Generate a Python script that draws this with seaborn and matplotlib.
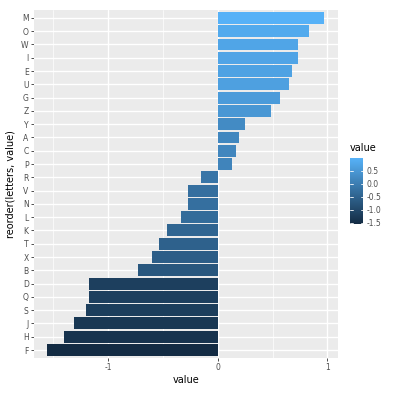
import matplotlib
matplotlib.use("Agg")
import matplotlib.pyplot as plt
import seaborn as sns
import numpy as np
import pandas as pd
from matplotlib.colors import LinearSegmentedColormap, Normalize
from matplotlib.cm import ScalarMappable

letters = ["M", "O", "W", "I", "E", "U", "G", "Z", "Y", "A", "C", "P", "R",
           "V", "N", "L", "K", "T", "X", "B", "D", "Q", "S", "J", "H", "F"]
values = [0.97, 0.83, 0.735, 0.73, 0.68, 0.65, 0.565, 0.486, 0.25, 0.19, 0.17, 0.125, -0.158,
          -0.27, -0.27, -0.337, -0.468, -0.535, -0.605, -0.73, -1.173, -1.18, -1.20, -1.315, -1.40, -1.556]
x_ticks = [-1, 0, 1]
x_minor = [-1.5, -0.5, 0.5]
cbar_ticks = [0.5, 0.0, -0.5, -1.0, -1.5]

df = pd.DataFrame({"letters": letters, "value": values})

sns.set_theme(style="dark")
plt.rcParams['font.family'] = ['DejaVu Sans']

cmap = LinearSegmentedColormap.from_list("gg", ["#132B43", "#56B1F7"])
vmin, vmax = min(values), max(values)
norm = Normalize(vmin=vmin, vmax=vmax)

fig = plt.figure(figsize=(3.96, 3.98), dpi=100)
fig.patch.set_facecolor("white")
ax = fig.add_axes([0.0846, 0.1005, 0.7689, 0.8745])
ax.set_facecolor("#EBEBEB")

sns.barplot(data=df, x="value", y="letters", hue="value", palette=cmap,
            hue_norm=norm, dodge=False, legend=False, width=0.9,
            order=letters, saturation=1, ax=ax, zorder=3, linewidth=0)

span = vmax - vmin
ax.set_xlim(vmin - 0.05 * span, vmax + 0.05 * span)
ax.set_ylim(len(letters) - 0.4, -0.6)

ax.set_xticks(x_ticks)
ax.set_xticklabels([str(t) for t in x_ticks])
ax.set_xticks(x_minor, minor=True)
ax.grid(False)
for t in x_ticks:
    ax.axvline(t, color="white", lw=1.0, zorder=1)
for t in x_minor:
    ax.axvline(t, color="white", lw=0.5, zorder=1)
for i in range(len(letters)):
    ax.axhline(i, color="white", lw=1.0, zorder=1)

for s in ax.spines.values():
    s.set_visible(False)
ax.tick_params(axis="both", which="major", length=2, width=0.6, color="#333333",
               labelsize=5.5, labelcolor="#4D4D4D", pad=1.5, bottom=True, left=True)
ax.tick_params(axis="x", which="minor", length=0)
ax.set_xlabel("value", fontsize=7, color="black", labelpad=2)
ax.set_ylabel("reorder(letters, value)", fontsize=7, color="black", labelpad=4)

cax = fig.add_axes([0.884, 0.437, 0.0336, 0.165])
sm = ScalarMappable(norm=norm, cmap=cmap)
cb = fig.colorbar(sm, cax=cax)
cb.outline.set_visible(False)
cb.set_ticks(cbar_ticks)
cb.set_ticklabels(["0.5", "0.0", "-0.5", "-1.0", "-1.5"])
cax.tick_params(length=0, labelsize=5.5, labelcolor="#4D4D4D", pad=2)
for t in cbar_ticks:
    cax.plot([0, 0.2], [t, t], color="white", lw=0.6, transform=cax.get_yaxis_transform())
    cax.plot([0.8, 1.0], [t, t], color="white", lw=0.6, transform=cax.get_yaxis_transform())
fig.text(0.884, 0.615, "value", fontsize=7, color="black", ha="left", va="bottom")

fig.savefig("out.png", dpi=100)
